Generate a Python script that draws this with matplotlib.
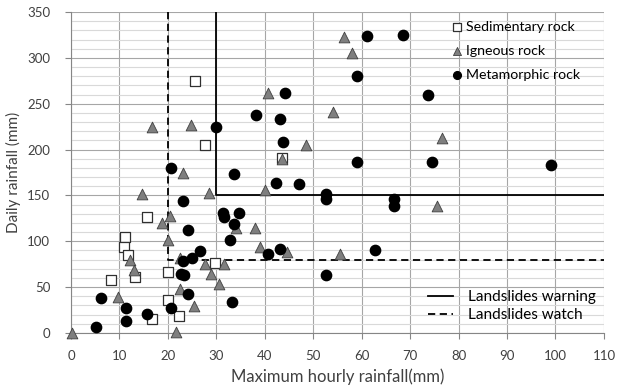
import matplotlib.pyplot as plt
from matplotlib.lines import Line2D

plt.rcParams['font.family'] = ['Lato', 'DejaVu Sans']

# Rainfall at each landslide event, grouped by rock type
sed_x = [25.6, 27.7, 15.6, 11.1, 11.0, 11.8, 29.7, 13.2, 20.1, 8.2, 20.1, 22.3, 16.7, 43.5]
sed_y = [275, 205, 127, 105, 94, 85, 76, 61, 67, 58, 36, 18, 15, 191]

ign_x = [16.7, 24.7, 23.1, 14.6, 28.5, 20.4, 18.7, 20.1, 12.2, 22.6, 27.7, 31.6,
         13.0, 29.0, 30.6, 22.6, 9.8, 25.4, 0.2, 21.6, 56.4, 57.9, 40.6, 54.1,
         76.5, 48.6, 43.5, 40.0, 75.5, 34.1, 38.0, 39.0, 44.5, 55.5]
ign_y = [225, 227, 175, 152, 153, 128, 120, 101, 80, 82, 75, 75,
         69, 64, 53, 48, 39, 29, 0, 1, 323, 305, 262, 241,
         213, 205, 190, 156, 139, 114, 114, 94, 88, 86]

met_x = [30.0, 20.6, 23.2, 24.2, 31.4, 31.6, 32.8, 26.6, 24.9, 23.2, 22.8, 23.3,
         24.2, 6.3, 33.2, 11.3, 20.6, 15.7, 11.3, 5.2, 61.2, 68.6, 59.1, 44.1,
         73.7, 38.1, 43.2, 43.7, 59.1, 74.6, 99.1, 66.6, 66.6, 33.6, 42.3, 47.1,
         52.6, 52.6, 34.7, 33.6, 40.7, 43.2, 62.7, 52.6]
met_y = [225, 180, 144, 112, 131, 126, 101, 89, 82, 78, 64, 63,
         42, 38, 34, 27, 27, 21, 13, 7, 324, 325, 280, 262,
         259, 238, 233, 208, 186, 187, 183, 146, 139, 173, 164, 163,
         152, 146, 131, 119, 86, 92, 91, 63]

# Threshold boundaries (hourly, daily)
warn_x = [30, 30, 110]
warn_y = [350, 150, 150]
watch_x = [20, 20, 110]
watch_y = [350, 80, 80]

fig = plt.figure(figsize=(6.27, 3.89), dpi=100)
ax = fig.add_axes([0.1132, 0.144, 0.85, 0.825])

ax.set_xlim(0, 110)
ax.set_ylim(0, 350)
ax.set_xticks(range(0, 111, 10))
ax.set_yticks(range(0, 351, 50))
ax.set_yticks(range(0, 351, 10), minor=True)
ax.grid(True, which='major', color='#a6a6a6', linewidth=0.8)
ax.grid(True, which='minor', axis='y', color='#d9d9d9', linewidth=0.8)
ax.set_axisbelow(True)

for side in ['top', 'right']:
    ax.spines[side].set_visible(False)
for side in ['left', 'bottom']:
    ax.spines[side].set_color('#868686')
ax.tick_params(axis='both', which='major', direction='out', length=4,
               color='#868686', labelsize=9.5, labelcolor='#404040')
ax.tick_params(axis='y', which='major', pad=11)
ax.tick_params(axis='x', which='major', pad=8)
ax.tick_params(axis='y', which='minor', length=0)

ax.plot(warn_x, warn_y, color='black', linewidth=1.3, zorder=2)
ax.plot(watch_x, watch_y, color='black', linewidth=1.3, linestyle=(0, (4, 2.5)), zorder=2)

sq = ax.scatter(sed_x, sed_y, marker='s', s=50, facecolor='white',
                edgecolor='#303030', linewidth=0.9, zorder=3, clip_on=False)
tri = ax.scatter(ign_x, ign_y, marker='^', s=60, facecolor='#7f7f7f',
                 edgecolor='#404040', linewidth=0.6, zorder=4, clip_on=False)
dot = ax.scatter(met_x, met_y, marker='o', s=55, facecolor='black',
                 edgecolor='black', zorder=5, clip_on=False)

ax.set_xlabel('Maximum hourly rainfall(mm)', fontsize=12, color='#404040', labelpad=5)
ax.set_ylabel('Daily rainfall (mm)', fontsize=11, color='#404040', labelpad=4)

rock_leg = ax.legend([sq, tri, dot], ['Sedimentary rock', 'Igneous rock', 'Metamorphic rock'],
                     loc='upper left', bbox_to_anchor=(0.698, 1.0), frameon=False,
                     fontsize=10.2, handlelength=0.8, handletextpad=0.2,
                     labelspacing=0.85, markerscale=0.75,
                     scatterpoints=1, borderaxespad=0.2)
ax.add_artist(rock_leg)

line_handles = [Line2D([], [], color='black', linewidth=1.3),
                Line2D([], [], color='black', linewidth=1.3, linestyle=(0, (4, 2.5)))]
ax.legend(line_handles, ['Landslides warning', 'Landslides watch'],
          loc='lower left', bbox_to_anchor=(0.645, -0.01), frameon=False,
          fontsize=11, handlelength=1.6, handletextpad=1.0, labelspacing=0.3)

fig.savefig('out.png', dpi=100)
